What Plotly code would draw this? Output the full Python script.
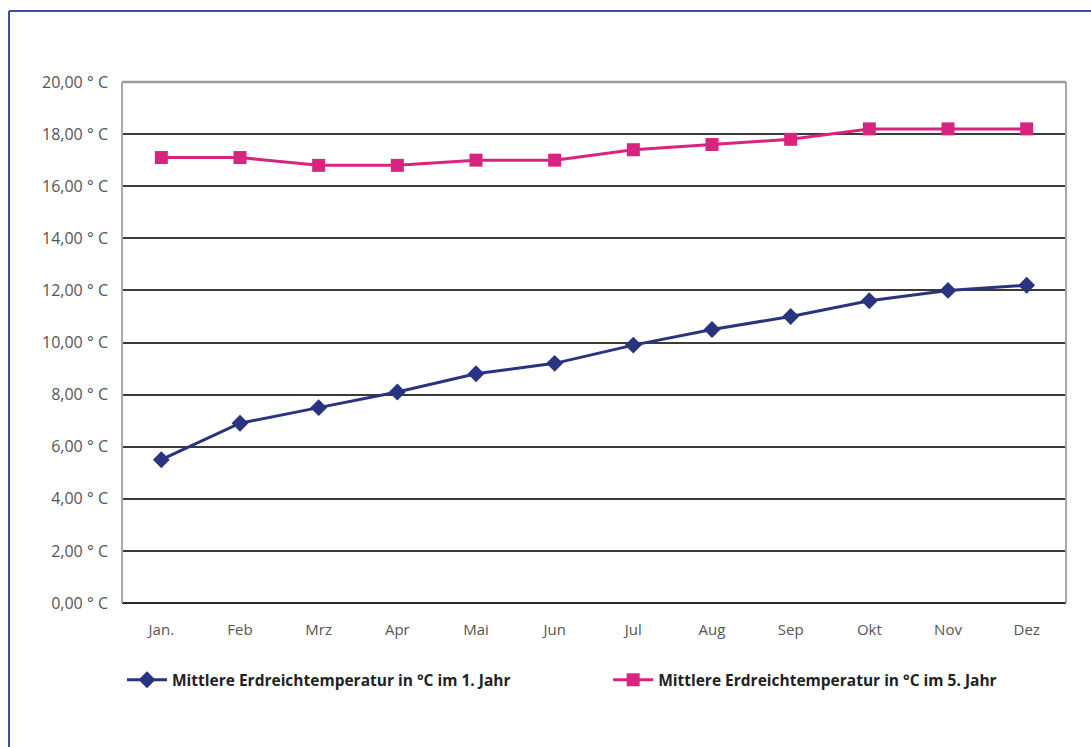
import plotly.graph_objects as go

months = ["Jan.", "Feb", "Mrz", "Apr", "Mai", "Jun", "Jul", "Aug", "Sep", "Okt", "Nov", "Dez"]
year1 = [5.5, 6.9, 7.5, 8.1, 8.8, 9.2, 9.9, 10.5, 11.0, 11.6, 12.0, 12.2]
year5 = [17.1, 17.1, 16.8, 16.8, 17.0, 17.0, 17.4, 17.6, 17.8, 18.2, 18.2, 18.2]
name1 = "Mittlere Erdreichtemperatur in °C im 1. Jahr"
name5 = "Mittlere Erdreichtemperatur in °C im 5. Jahr"
tickvals = [0, 2, 4, 6, 8, 10, 12, 14, 16, 18, 20]
ticktext = ["0,00 ° C", "2,00 ° C", "4,00 ° C", "6,00 ° C", "8,00 ° C", "10,00 ° C",
            "12,00 ° C", "14,00 ° C", "16,00 ° C", "18,00 ° C", "20,00 ° C"]

fig = go.Figure()
fig.add_trace(go.Scatter(x=months, y=year1, name=name1, mode="lines+markers",
                         line=dict(color="#28347f", width=3),
                         marker=dict(symbol="diamond", size=13, color="#28347f"),
                         legend="legend"))
fig.add_trace(go.Scatter(x=months, y=year5, name=name5, mode="lines+markers",
                         line=dict(color="#d8237f", width=3),
                         marker=dict(symbol="square", size=13, color="#d8237f"),
                         legend="legend2"))

legfont = dict(family="Open Sans", size=15.5, color="#222", weight="bold")
fig.update_layout(
    width=1091, height=747,
    margin=dict(l=122, r=25, t=82, b=144),
    paper_bgcolor="white", plot_bgcolor="white",
    font=dict(family="Open Sans", size=15, color="#555"),
    showlegend=True,
    legend=dict(x=0.0, xanchor="left", y=-0.148, yanchor="middle",
                font=legfont, itemwidth=40, bgcolor="rgba(0,0,0,0)"),
    legend2=dict(x=0.515, xanchor="left", y=-0.148, yanchor="middle",
                 font=legfont, itemwidth=40, bgcolor="rgba(0,0,0,0)"),
    xaxis=dict(type="category", range=[-0.5, 11.5], showgrid=False, zeroline=False,
               showline=False, ticks="", ticklabelstandoff=16,
               tickfont=dict(size=15, color="#555")),
    yaxis=dict(range=[0, 20], tickvals=tickvals, ticktext=ticktext, showgrid=True,
               gridcolor="#3a3a3a", gridwidth=2, zeroline=True, zerolinecolor="#2a2a2a",
               zerolinewidth=2, showline=False,
               ticks="", ticklabelstandoff=13, tickfont=dict(size=16, color="#555")),
    shapes=[
        dict(type="line", xref="paper", yref="paper", x0=0, x1=1, y0=1, y1=1,
             line=dict(color="#9a9a9a", width=2.5)),
        dict(type="line", xref="paper", yref="paper", x0=0, x1=0, y0=0, y1=1,
             line=dict(color="#a8a8a8", width=2)),
        dict(type="line", xref="paper", yref="paper", x0=1, x1=1, y0=0, y1=1,
             line=dict(color="#a8a8a8", width=2)),
        dict(type="line", xref="paper", yref="paper", x0=-0.1197, x1=-0.1197, y0=1.1363, y1=-0.6,
             line=dict(color="#3c4fa0", width=2)),
        dict(type="line", xref="paper", yref="paper", x0=-0.1197, x1=1.2, y0=1.1363, y1=1.1363,
             line=dict(color="#3c4fa0", width=2)),
    ],
)
fig.write_html("out.html")
